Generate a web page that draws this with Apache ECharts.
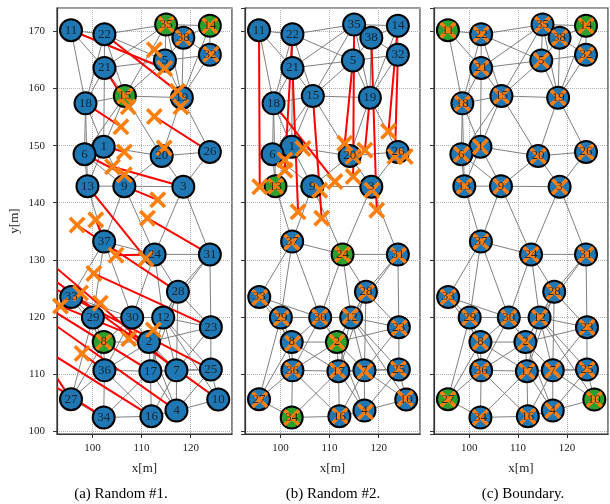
<!DOCTYPE html>
<html><head><meta charset="utf-8">
<script src="https://cdn.jsdelivr.net/npm/echarts@6/dist/echarts.min.js"></script>
<style>html,body{margin:0;padding:0;background:#fff}#c{width:610px;height:504px}</style>
</head><body><div id="c"></div>
<script>
// ---- data ----
const nodeIds = [1,2,3,4,5,6,7,8,9,10,11,12,13,14,15,16,17,18,19,20,21,22,23,24,25,26,27,28,29,30,31,32,33,34,35,36,37,38];
const nodeX = [102.3,111.5,118.5,117.1,114.75,98.4,117.1,102.3,106.5,125.6,95.65,114.4,99.0,123.9,106.6,112.0,111.8,98.6,118.2,114.1,102.45,102.45,124.1,112.65,124.1,123.9,95.65,117.4,100.1,108.1,123.9,123.9,95.7,102.3,115.0,102.45,102.4,118.5];
const nodeY = [149.8,115.6,142.8,103.6,164.9,148.5,110.65,115.6,142.9,105.55,170.2,119.9,142.9,171.0,158.7,102.6,110.5,157.4,158.4,148.2,163.6,169.5,118.2,130.95,110.8,148.9,105.6,124.4,119.9,119.9,130.95,165.9,123.5,102.4,171.2,110.65,133.2,168.9];
const edges = [
 [11,22],[11,21],[11,18],[22,35],[22,5],[22,21],[22,15],[22,18],[21,35],[21,5],[21,18],[21,15],[21,1],
 [35,38],[35,14],[35,5],[35,15],[35,19],[38,14],[38,32],[38,19],[38,5],[14,32],[14,19],[32,5],[32,19],
 [5,15],[5,19],[15,18],[15,19],[15,1],[15,6],[15,20],[18,6],[18,1],[18,13],[19,20],[19,26],[1,6],[1,20],
 [1,13],[1,9],[6,13],[6,9],[20,26],[20,9],[20,3],[26,3],[13,9],[9,3],[13,37],[9,37],[9,24],[3,24],[3,31],
 [37,24],[37,33],[37,29],[37,30],[24,31],[24,28],[24,30],[24,12],[31,28],[31,12],[31,23],[28,12],[28,2],
 [28,7],[28,23],[28,17],[33,29],[33,30],[33,8],
 [29,30],[30,12],[12,23],[29,8],[29,27],[29,36],[30,8],[30,2],[30,36],[12,2],[12,17],[12,7],[12,25],
 [23,7],[23,25],[23,2],[8,2],[8,36],[8,17],[2,17],[2,7],[2,36],[36,17],[36,27],[36,34],[36,16],[17,7],
 [17,16],[17,4],[7,25],[7,4],[7,10],[7,16],[25,10],[25,4],[4,10],[4,16],[34,16],[27,34],[34,17],[27,8],
 [17,25],[2,4],[12,10]
];
const anchorsA = [8,14,15,35];
const anchorsB = [2,13,24,34];
const anchorsC = [10,11,14,27];
const estAX = [106.5,93.5,104.1,85.3,112.6,106.5,88.4,102.3,113.3,89.4,114.7,112.4,110.9,123.9,106.6,87.3,86.5,105.8,118.0,114.6,107.3,117.3,100.3,104.8,90.0,112.6,90.4,96.9,101.6,107.4,111.2,124.1,97.6,87.3,115.0,97.9,100.7,118.5];
const estAY = [148.9,121.9,146.3,122.9,166.8,144.9,131.7,115.6,140.5,128.2,163.5,117.7,130.2,171.0,158.7,115.9,124.0,153.3,156.8,149.6,156.8,159.5,127.6,130.8,126.0,155.1,112.4,136.1,122.4,116.2,137.3,166.0,124.2,110.6,171.2,113.6,137.0,168.9];
const estBX = [104.6,111.5,118.6,117.3,113.1,100.9,117.2,102.5,108.0,125.4,95.8,114.2,99.0,122.0,108.4,112.1,111.6,111.1,117.2,114.8,103.6,100.9,124.2,112.65,124.0,125.4,95.8,117.5,100.2,108.0,124.0,123.3,95.8,102.3,114.8,102.5,102.3,119.6];
const estBY = [149.5,115.6,142.2,103.4,150.4,147.5,110.5,115.4,142.2,105.7,142.8,120.1,142.9,152.5,137.3,102.7,110.6,143.7,149.2,148.1,138.4,145.7,118.1,130.95,110.9,148.1,105.5,124.3,119.8,120.0,130.8,148.1,123.4,102.4,144.6,110.7,133.1,138.7];
const estCX = [102.3,111.5,118.5,117.1,114.75,98.4,117.1,102.3,106.5,125.6,95.65,114.4,99.0,123.9,106.6,112.0,111.8,98.6,118.2,114.1,102.45,102.45,124.1,112.65,124.1,123.9,95.65,117.4,100.1,108.1,123.9,123.9,95.7,102.3,115.0,102.45,102.4,118.5];
const estCY = [149.8,115.6,142.8,103.6,164.9,148.5,110.65,115.6,142.9,105.55,170.2,119.9,142.9,171.0,158.7,102.6,110.5,157.4,158.4,148.2,163.6,169.5,118.2,130.95,110.8,148.9,105.6,124.4,119.9,119.9,130.95,165.9,123.5,102.4,171.2,110.65,133.2,168.9];
const captions = ['(a) Random #1.', '(b) Random #2.', '(c) Boundary.'];
const xName = 'x[m]';
const yName = 'y[m]';

// ---- layout / style ----
const panels = [
  {left:57, width:175, anchors:anchorsA, ex:estAX, ey:estAY, capX:116},
  {left:245, width:175, anchors:anchorsB, ex:estBX, ey:estBY, capX:328},
  {left:434, width:174, anchors:anchorsC, ex:estCX, ey:estCY, capX:518}
];
const TOP = 8, HEIGHT = 426;
const XMIN = 92.8, XMAX = 128.4, YMIN = 99.5, YMAX = 174.1;
const SERIF = '"Liberation Serif","DejaVu Serif",serif';
const XPATH = 'path://M3,0 L10,7 L17,0 L20,3 L13,10 L20,17 L17,20 L10,13 L3,20 L0,17 L7,10 L0,3 Z';

const grids = [], xAxes = [], yAxes = [], series = [], titles = [];
function segRender(color, width) {
  return function (params, api) {
    const p1 = api.coord([api.value(0), api.value(1)]);
    const p2 = api.coord([api.value(2), api.value(3)]);
    return {type:'line', shape:{x1:p1[0], y1:p1[1], x2:p2[0], y2:p2[1]},
            style:{stroke:color, lineWidth:width, fill:null}};
  };
}
panels.forEach((p, k) => {
  grids.push({left:p.left, top:TOP, width:p.width, height:HEIGHT, show:true,
              borderColor:'#333', borderWidth:1.2, backgroundColor:'transparent'});
  xAxes.push({type:'value', gridIndex:k, min:XMIN, max:XMAX, splitNumber:4,
    name:xName, nameLocation:'middle', nameGap:28,
    nameTextStyle:{fontFamily:SERIF, fontSize:13, color:'#222'},
    axisLine:{show:true, lineStyle:{color:'#333', width:1.2}},
    axisTick:{show:true, length:4, lineStyle:{color:'#333'}},
    axisLabel:{fontFamily:SERIF, fontSize:11, color:'#222', margin:9, showMinLabel:false, showMaxLabel:false},
    splitLine:{show:true, lineStyle:{type:'dotted', color:'#b0b0b0', width:1}}});
  yAxes.push({type:'value', gridIndex:k, min:YMIN, max:YMAX, splitNumber:8,
    name:k===0?yName:'', nameLocation:'middle', nameGap:36, nameRotate:90,
    nameTextStyle:{fontFamily:SERIF, fontSize:13, color:'#222'},
    axisLine:{show:true, lineStyle:{color:'#333', width:1.2}},
    axisTick:{show:true, length:4, lineStyle:{color:'#333'}},
    axisLabel:{show:k===0, fontFamily:SERIF, fontSize:11, color:'#222', margin:12, showMinLabel:false, showMaxLabel:false},
    splitLine:{show:true, lineStyle:{type:'dotted', color:'#b0b0b0', width:1}}});
  const idx = id => id - 1;
  // gray graph edges
  series.push({type:'custom', xAxisIndex:k, yAxisIndex:k, clip:true, z:1, silent:true,
    renderItem:segRender('#808080', 1),
    encode:{x:[0,2], y:[1,3]},
    data: edges.map(e => [nodeX[idx(e[0])], nodeY[idx(e[0])], nodeX[idx(e[1])], nodeY[idx(e[1])]])});
  // red error lines node -> estimate
  series.push({type:'custom', xAxisIndex:k, yAxisIndex:k, clip:true, z:2, silent:true,
    renderItem:segRender('#ff0000', 2),
    encode:{x:[0,2], y:[1,3]},
    data: nodeIds.map(id => [nodeX[idx(id)], nodeY[idx(id)], p.ex[idx(id)], p.ey[idx(id)]])});
  // nodes
  series.push({type:'scatter', xAxisIndex:k, yAxisIndex:k, z:3, silent:true, symbolSize:22,
    data: nodeIds.map(id => ({value:[nodeX[idx(id)], nodeY[idx(id)]],
      itemStyle:{color: p.anchors.includes(id) ? '#2ca02c' : '#1f77b4', borderColor:'#000', borderWidth:2, opacity:1}}))});
  // estimates
  series.push({type:'scatter', xAxisIndex:k, yAxisIndex:k, z:4, silent:true, symbol:XPATH, symbolSize:17,
    clip:true, itemStyle:{color:'#ff7f0e', opacity:1},
    data: nodeIds.map(id => [p.ex[idx(id)], p.ey[idx(id)]])});
  // labels
  series.push({type:'scatter', xAxisIndex:k, yAxisIndex:k, z:5, silent:true, symbolSize:1,
    itemStyle:{color:'rgba(0,0,0,0)'},
    label:{show:true, position:'inside', formatter: d => String(d.value[2]),
      fontFamily:SERIF, fontSize:13, color:'#111'},
    data: nodeIds.map(id => [nodeX[idx(id)], nodeY[idx(id)], id])});
  titles.push({text:captions[k], left:p.capX, top:482, textAlign:'center',
    textStyle:{fontFamily:SERIF, fontSize:15, fontWeight:'normal', color:'#000'}});
});

const chart = echarts.init(document.getElementById('c'), null, {renderer:'canvas'});
chart.setOption({animation:false, backgroundColor:'#fff', title:titles,
  grid:grids, xAxis:xAxes, yAxis:yAxes, series:series});
</script></body></html>
